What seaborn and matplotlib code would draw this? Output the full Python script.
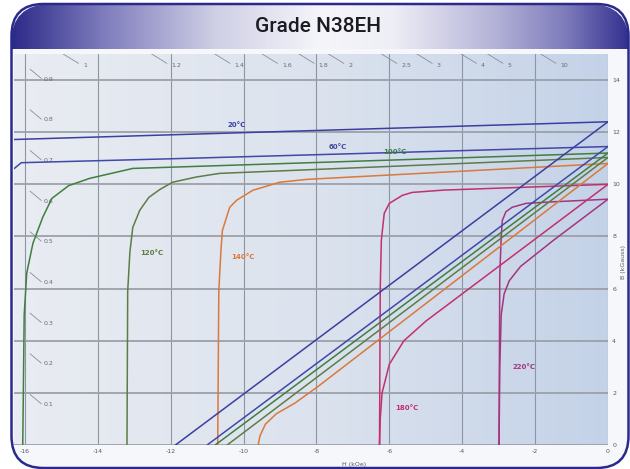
import numpy as np
import pandas as pd
import matplotlib
matplotlib.use("Agg")
import matplotlib.pyplot as plt
import seaborn as sns
from matplotlib.patches import FancyBboxPatch
from matplotlib.colors import LinearSegmentedColormap

# ---------------------------------------------------------------
# data  (H in kOe, B in kGauss)
# ---------------------------------------------------------------
temps = ["20°C", "60°C", "100°C", "120°C", "140°C", "180°C", "220°C"]
colors = ["#3b3f9f", "#4048a8", "#3f7f3f", "#5d7d45", "#d9793a", "#c2306e", "#a3357f"]

# intrinsic curves
hi_20 = [-16.3, 0]
bi_20 = [11.72, 12.4]
hi_60 = [-16.3, -16.1, -12.0, 0]
bi_60 = [10.6, 10.83, 10.98, 11.45]
hi_100 = [-16.06, -16.02, -15.95, -15.78, -15.51, -15.26, -14.8, -14.22, -13.04, 0]
bi_100 = [0, 5.0, 6.6, 7.74, 8.74, 9.46, 9.95, 10.23, 10.61, 11.2]
hi_120 = [-13.2, -13.18, -13.12, -13.04, -12.85, -12.6, -12.3, -11.95, -11.3, -10.66, 0]
bi_120 = [0, 5.9, 7.4, 8.35, 9.0, 9.5, 9.8, 10.08, 10.28, 10.42, 11.03]
hi_140 = [-10.71, -10.68, -10.62, -10.58, -10.38, -10.19, -9.75, -9.01, -8.27, 0]
bi_140 = [0, 5.9, 7.5, 8.24, 9.12, 9.39, 9.77, 10.08, 10.19, 10.8]
hi_180 = [-6.27, -6.25, -6.22, -6.14, -6.0, -5.64, -5.37, -4.5, 0]
bi_180 = [0, 6.0, 7.85, 8.89, 9.27, 9.58, 9.69, 9.78, 10.0]
hi_220 = [-2.99, -2.97, -2.93, -2.9, -2.8, -2.63, -2.25, -1.5, 0]
bi_220 = [0, 6.5, 8.0, 8.62, 8.95, 9.12, 9.27, 9.33, 9.43]

# normal curves
hn_20 = [-11.87, 0]
bn_20 = [0, 12.4]
hn_60 = [-11.0, 0]
bn_60 = [0, 11.45]
hn_100 = [-10.78, 0]
bn_100 = [0, 11.2]
hn_120 = [-10.45, 0]
bn_120 = [0, 11.03]
hn_140 = [-9.6, -9.55, -9.4, -9.1, -8.6, -8.0, 0]
bn_140 = [0, 0.35, 0.8, 1.2, 1.6, 2.2, 10.8]
hn_180 = [-6.27, -6.25, -6.2, -6.0, -5.6, -5.0, -4.0, -2.0, 0]
bn_180 = [0, 1.0, 2.0, 3.1, 4.0, 4.75, 5.8, 7.9, 10.0]
hn_220 = [-2.99, -2.97, -2.93, -2.85, -2.71, -2.4, -1.5, 0]
bn_220 = [0, 3.0, 5.0, 5.8, 6.3, 6.85, 7.85, 9.43]

# where the temperature labels sit
lbl_h = [-10.19, -7.42, -5.86, -12.52, -10.03, -5.53, -2.3]
lbl_b = [12.26, 11.42, 11.23, 7.36, 7.2, 1.42, 2.99]

# permeance coefficient marks
pc_top = [1, 1.2, 1.4, 1.6, 1.8, 2, 2.5, 3, 4, 5, 10]
pc_top_lbl = ["1", "1.2", "1.4", "1.6", "1.8", "2", "2.5", "3", "4", "5", "10"]
pc_left = [0.9, 0.8, 0.7, 0.6, 0.5, 0.4, 0.3, 0.2, 0.1]

xticks = [-16, -14, -12, -10, -8, -6, -4, -2, 0]
xtick_lbl = ["-16", "-14", "-12", "-10", "-8", "-6", "-4", "-2", "0"]
yticks = [0, 2, 4, 6, 8, 10, 12, 14]

intrinsic = [(hi_20, bi_20), (hi_60, bi_60), (hi_100, bi_100), (hi_120, bi_120),
             (hi_140, bi_140), (hi_180, bi_180), (hi_220, bi_220)]
normal = [(hn_20, bn_20), (hn_60, bn_60), (hn_100, bn_100), (hn_120, bn_120),
          (hn_140, bn_140), (hn_180, bn_180), (hn_220, bn_220)]

# ---------------------------------------------------------------
sns.set_theme(style="white")
plt.rcParams['font.family'] = ['DejaVu Sans']

W, H = 630, 469
fig = plt.figure(figsize=(6.3, 4.69), dpi=100)
fig.patch.set_facecolor("white")

# panel behind everything
bg = fig.add_axes([0, 0, 1, 1], zorder=0)
bg.set_xlim(0, W)
bg.set_ylim(H, 0)
bg.axis("off")
bg.add_patch(FancyBboxPatch((12, 5), 616, 462, boxstyle="round,pad=0,rounding_size=30",
                            fc="#f6f7fa", ec="none"))

# main chart
ax = fig.add_axes([14 / W, 1 - 445 / H, (608 - 14) / W, (445 - 54) / H], zorder=1)
cmap = LinearSegmentedColormap.from_list("bgc", ["#e9ecf2", "#dce3ee", "#c4d2e8"])
ax.imshow(np.linspace(0, 1, 256)[None, :], aspect="auto", cmap=cmap,
          extent=(-16.3, 0, 0, 15), zorder=0)

for x in xticks:
    ax.axvline(x, color="#8e95a2", lw=0.8, zorder=1)
for y in yticks:
    ax.axhline(y, color="#9ba0a9", lw=1.3, zorder=1)

for (h, b), c in zip(intrinsic, colors):
    sns.lineplot(x=h, y=b, sort=False, estimator=None, color=c, lw=1.1, ax=ax, zorder=3)
for (h, b), c in zip(normal, colors):
    sns.lineplot(x=h, y=b, sort=False, estimator=None, color=c, lw=1.1, ax=ax, zorder=3)

for t, x, y, c in zip(temps, lbl_h, lbl_b, colors):
    ax.text(x, y, t, color=c, fontsize=5, fontweight="bold", ha="center", va="center", zorder=4)

# permeance marks along the top and left
for p, s in zip(pc_top, pc_top_lbl):
    hx = -14.56 / p + 0.15
    ax.plot([hx - 0.55, hx - 0.12], [14.56 + 0.45, 14.56 + 0.08], color="#8a8f98", lw=0.6, zorder=2)
    ax.text(hx, 14.56, s, fontsize=4.5, color="#666a72", ha="left", va="center", zorder=2)
for p in pc_left:
    by = 15.6 * p
    ax.plot([-15.86, -15.55], [by + 0.38, by + 0.02], color="#8a8f98", lw=0.6, zorder=2)
    ax.text(-15.5, by, str(p), fontsize=4.5, color="#666a72", ha="left", va="center", zorder=2)

ax.set_xlim(-16.3, 0)
ax.set_ylim(0, 15)
ax.set_xticks(xticks)
ax.set_xticklabels(xtick_lbl)
ax.yaxis.tick_right()
ax.set_yticks(yticks)
ax.set_yticklabels([str(v) for v in yticks])
ax.tick_params(axis="both", labelsize=4.5, colors="#555a62", length=0, pad=3)
ax.set_xlabel("")
ax.set_ylabel("")
for sp in ax.spines.values():
    sp.set_visible(False)

fig.text(354 / W, 1 - 464 / H, "H (kOe)", fontsize=4.5, color="#555a62", ha="center", va="center")
fig.text(624 / W, 1 - 262 / H, "B (kGauss)", fontsize=4.5, color="#555a62", ha="center",
         va="center", rotation=90)

# banner + frame on top
ov = fig.add_axes([0, 0, 1, 1], zorder=3)
ov.set_xlim(0, W)
ov.set_ylim(H, 0)
ov.axis("off")
ov.patch.set_alpha(0)

clip = FancyBboxPatch((11, 4), 618, 120, boxstyle="round,pad=0,rounding_size=40",
                      fc="none", ec="none")
ov.add_patch(clip)
bcmap = LinearSegmentedColormap.from_list("ban", [
    (0.0, "#2c2a88"), (0.15, "#7f7dbd"), (0.33, "#cfcfe6"), (0.5, "#f5f5fa"),
    (0.62, "#eeeef6"), (0.78, "#b5b4d8"), (0.9, "#7d7bbb"), (1.0, "#34318f")])
im = ov.imshow(np.linspace(0, 1, 256)[None, :], aspect="auto", cmap=bcmap,
               extent=(11, 629, 49, 4), zorder=1)
im.set_clip_path(clip)
ov.text(318, 27, "Grade N38EH", fontsize=15, color="#1b1b22", ha="center", va="center",
        family="Roboto", fontweight="medium", zorder=2)

ov.add_patch(FancyBboxPatch((11.5, 4), 617, 464, boxstyle="round,pad=0,rounding_size=32",
                            fc="none", ec="#2b2a8c", lw=1.8, zorder=3))
ov.set_xlim(0, W)
ov.set_ylim(H, 0)

fig.savefig("out.png", dpi=100)
